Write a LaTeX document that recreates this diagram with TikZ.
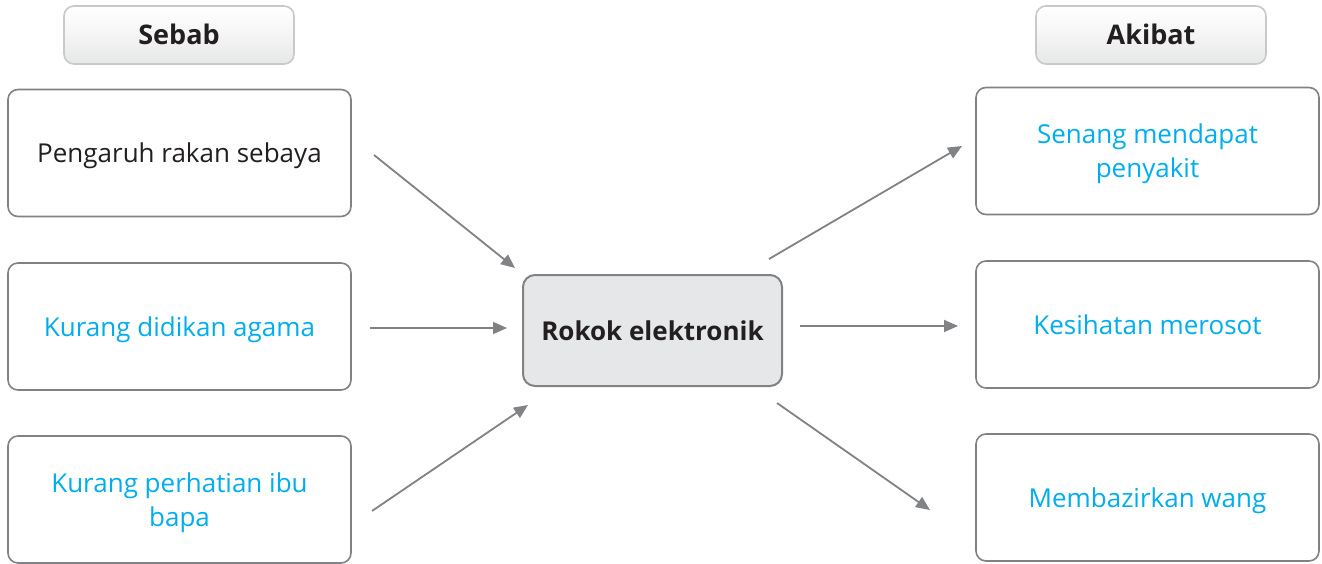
\documentclass[tikz,border=0pt]{standalone}
\usepackage{fontspec}
\setmainfont{Open Sans}
\usetikzlibrary{arrows.meta}
\definecolor{txtblack}{HTML}{231F20}
\definecolor{txtcyan}{HTML}{00AEEF}
\definecolor{boxline}{HTML}{808285}
\definecolor{centerfill}{HTML}{E6E7E8}
\definecolor{headline}{HTML}{C8C9CB}
\tikzset{
  box/.style={draw=boxline, line width=1.6pt, rounded corners=10pt, fill=white,
    minimum width=343pt, minimum height=127pt, inner sep=0pt,
    font=\fontsize{26}{34}\selectfont, text height=20pt, text depth=-2pt},
  twotext/.style={align=center, inner sep=0pt, yshift=-3pt,
    font=\fontsize{26}{34}\selectfont, text=txtcyan},
  header/.style={draw=headline, line width=1.6pt, rounded corners=10pt,
    top color=white, bottom color=headline!45, middle color=white!96!black,
    minimum width=230pt, minimum height=58pt, inner sep=0pt,
    font=\fontsize{27}{30}\selectfont\bfseries, text=txtblack,
    text height=20pt, text depth=-2pt},
  center/.style={draw=boxline, line width=2pt, rounded corners=12pt, fill=centerfill,
    minimum width=259pt, minimum height=111pt, inner sep=0pt,
    font=\fontsize{26}{30}\selectfont\bfseries, text=txtblack,
    text height=20pt, text depth=-3pt},
  conn/.style={draw=boxline, line width=1.8pt, -{Triangle[length=14pt,width=12pt]}},
}
\begin{document}
\begin{tikzpicture}[x=1pt,y=-1pt]
\useasboundingbox (0,0) rectangle (1322,564);
\node[header] (sebab) at (179,35) {Sebab};
\node[header] (akibat) at (1151,35) {Akibat};
\node[box, text=txtblack] (l1) at (179.5,153) {Pengaruh rakan sebaya};
\node[box, text=txtcyan] (l2) at (179.5,326.5) {Kurang didikan agama};
\node[box, label={[twotext]center:Kurang perhatian ibu\\bapa}] (l3) at (179.5,499.5) {};
\node[center] (c) at (652.5,330.5) {Rokok elektronik};
\node[box, label={[twotext]center:Senang mendapat\\penyakit}] (r1) at (1147.5,151) {};
\node[box, text=txtcyan] (r2) at (1147.5,324.5) {Kesihatan merosot};
\node[box, text=txtcyan] (r3) at (1147.5,497.5) {Membazirkan wang};
\coordinate (a1s) at (374,155); \coordinate (a1e) at (515,268);
\coordinate (a2s) at (370,328); \coordinate (a2e) at (507,328);
\coordinate (a3s) at (372,511); \coordinate (a3e) at (528,405);
\coordinate (b1s) at (769,259); \coordinate (b1e) at (962,146);
\coordinate (b2s) at (800,326); \coordinate (b2e) at (958,326);
\coordinate (b3s) at (777,403); \coordinate (b3e) at (930,510);
\draw[conn] (a1s) -- (a1e);
\draw[conn] (a2s) -- (a2e);
\draw[conn] (a3s) -- (a3e);
\draw[conn] (b1s) -- (b1e);
\draw[conn] (b2s) -- (b2e);
\draw[conn] (b3s) -- (b3e);
\end{tikzpicture}
\end{document}
